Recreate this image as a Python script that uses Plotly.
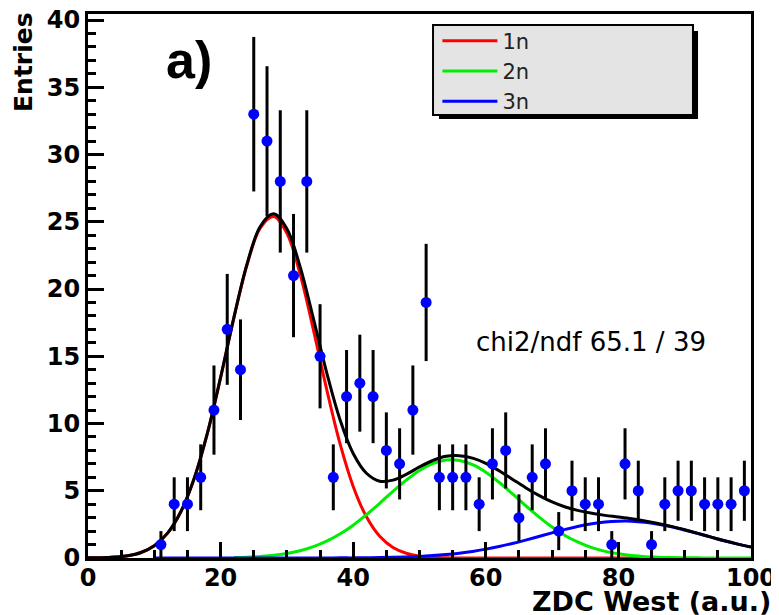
import numpy as np
import plotly.graph_objects as go

# ---- data ----
bin_centers = [11, 13, 15, 17, 19, 21, 23, 25, 27, 29, 31, 33, 35, 37, 39, 41, 43, 45, 47, 49,
               51, 53, 55, 57, 59, 61, 63, 65, 67, 69, 71, 73, 75, 77, 79, 81, 83, 85, 87, 89,
               91, 93, 95, 97, 99]
entries = [1, 4, 4, 6, 11, 17, 14, 33, 31, 28, 21, 28, 15, 6, 12, 13, 12, 8, 7, 11,
           19, 6, 6, 6, 4, 7, 8, 3, 6, 7, 2, 5, 4, 4, 1, 7, 5, 1, 4, 5,
           5, 4, 4, 4, 5]
entry_errors = list(np.sqrt(entries))  # Poisson errors

fit_x = [0, 2, 4, 6, 8, 10, 12, 14, 16, 18, 20, 22, 24, 26, 28, 30, 32, 34, 36, 38,
         40, 42, 44, 46, 48, 50, 52, 54, 56, 58, 60, 62, 64, 66, 68, 70, 72, 74, 76, 78,
         80, 82, 84, 86, 88, 90, 92, 94, 96, 98, 100]
fit_1n = [0.01, 0.02, 0.07, 0.17, 0.41, 0.91, 1.85, 3.44, 5.89, 9.26, 13.41, 17.84, 21.82, 24.55, 25.39,
          24.14, 21.10, 16.96, 12.54, 8.52, 5.32, 3.06, 1.61, 0.78, 0.35, 0.14, 0.05, 0.02, 0, 0,
          0, 0, 0, 0, 0, 0, 0, 0, 0, 0, 0, 0, 0, 0, None, None, None, None, None, None, None]
fit_2n = [None, None, None, None, None, None, None, None, None, None, None, 0.03, 0.06, 0.12, 0.20,
          0.34, 0.54, 0.84, 1.25, 1.78, 2.44, 3.22, 4.07, 4.96, 5.79, 6.51, 7.02, 7.28, 7.25, 6.94,
          6.38, 5.63, 4.78, 3.90, 3.06, 2.30, 1.66, 1.16, 0.77, 0.49, 0.31, 0.18, 0.10, 0.06, 0.03,
          0.02, 0.01, 0, 0, 0, 0]
fit_3n = [None, None, None, None, None, 0, 0, 0, 0, 0, 0, 0, 0, 0, 0, 0, 0, 0, 0, 0.01,
          0.01, 0.02, 0.03, 0.05, 0.08, 0.12, 0.18, 0.26, 0.36, 0.49, 0.66, 0.86, 1.08, 1.33, 1.60,
          1.87, 2.13, 2.36, 2.55, 2.68, 2.74, 2.74, 2.66, 2.51, 2.32, 2.08, 1.82, 1.55, 1.28, 1.03, 0.81]
fit_total = [0.01, 0.02, 0.07, 0.17, 0.41, 0.91, 1.85, 3.44, 5.89, 9.26, 13.43, 17.87, 21.88, 24.67, 25.59,
             24.48, 21.64, 17.80, 13.79, 10.30, 7.77, 6.30, 5.71, 5.79, 6.22, 6.77, 7.25, 7.56, 7.61, 7.43,
             7.04, 6.49, 5.86, 5.23, 4.66, 4.17, 3.79, 3.52, 3.32, 3.17, 3.05, 2.92, 2.76, 2.57, 2.35,
             2.10, 1.83, 1.55, 1.28, 1.03, 0.81]

x_ticks = [0, 20, 40, 60, 80, 100]
y_ticks = [0, 5, 10, 15, 20, 25, 30, 35, 40]

BOLD = "DejaVu Sans"

fig = go.Figure()
for name, ys, col in [("1n", fit_1n, "#ff0000"), ("2n", fit_2n, "#00ee00"), ("3n", fit_3n, "#0000ff")]:
    fig.add_trace(go.Scatter(x=fit_x, y=ys, mode="lines", name=name,
                             line=dict(color=col, width=3, shape="spline"),
                             connectgaps=False))
fig.add_trace(go.Scatter(x=fit_x, y=fit_total, mode="lines", showlegend=False,
                         line=dict(color="black", width=3, shape="spline")))
fig.add_trace(go.Scatter(x=bin_centers, y=entries, mode="markers", showlegend=False,
                         marker=dict(color="#0000ff", size=11),
                         error_y=dict(type="data", array=entry_errors, color="black",
                                      thickness=3, width=0)))

axis_common = dict(showline=True, linecolor="black", linewidth=3, mirror=True,
                   ticks="inside", tickcolor="black", tickwidth=3,
                   showgrid=False, zeroline=False, automargin=False,
                   ticklabeloverflow="allow",
                   tickfont=dict(family=BOLD, size=24, color="black", weight="bold"))

fig.update_xaxes(range=[0, 100], tickvals=x_ticks, ticklen=16, ticklabelstandoff=-4,
                 minor=dict(dtick=5, ticklen=8, tickwidth=3, tickcolor="black", ticks="inside"),
                 **axis_common)
fig.update_yaxes(range=[0, 40.45], tickvals=y_ticks, ticklen=16,
                 minor=dict(dtick=1, ticklen=8, tickwidth=3, tickcolor="black", ticks="inside"),
                 **axis_common)

# legend box with shadow
fig.add_shape(type="rect", xref="paper", yref="paper", x0=0.5294, x1=0.9201, y0=0.8070, y1=0.9688,
              fillcolor="black", line=dict(width=0), layer="above")
fig.add_shape(type="rect", xref="paper", yref="paper", x0=0.5204, x1=0.9125, y0=0.8143, y1=0.9798,
              fillcolor="#e4e4e4", line=dict(color="black", width=2), layer="above")

# the page body adds an 8px offset, so the figure is 8px smaller and margins shifted
fig.update_layout(
    width=771, height=607,
    margin=dict(l=80, r=28, t=6, b=57, autoexpand=False),
    paper_bgcolor="white", plot_bgcolor="white",
    showlegend=True,
    legend=dict(x=0.527, y=0.988, xanchor="left", yanchor="top",
                bgcolor="rgba(0,0,0,0)", borderwidth=0,
                font=dict(family="DejaVu Sans", size=21, color="#222222"),
                itemwidth=55, tracegroupgap=0),
    annotations=[
        dict(text="Entries", xref="paper", yref="paper", x=-0.0965, y=1.0074,
             xanchor="center", yanchor="top", textangle=-90, showarrow=False,
             font=dict(family=BOLD, size=25, color="black", weight="bold")),
        dict(text="ZDC West (a.u.)", xref="paper", yref="paper", x=1.033, y=-0.048,
             xanchor="right", yanchor="top", showarrow=False,
             font=dict(family=BOLD, size=27, color="black", weight="bold")),
        dict(text="a)", xref="x", yref="y", x=15.2, y=37.0, xanchor="center", yanchor="middle",
             showarrow=False, font=dict(family="Liberation Sans", size=52, color="black", weight="bold")),
        dict(text="chi2/ndf 65.1 / 39", xref="x", yref="y", x=58.2, y=16.05,
             xanchor="left", yanchor="middle", showarrow=False,
             font=dict(family="DejaVu Sans", size=26, color="black")),
    ],
)

fig.write_html("out.html")
